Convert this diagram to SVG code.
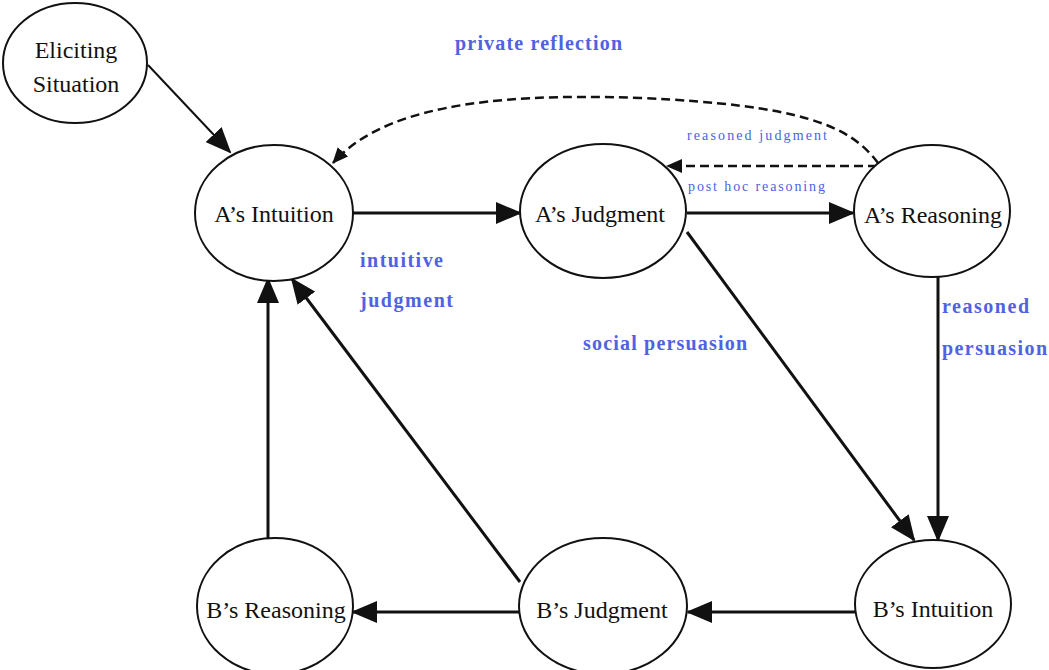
<svg xmlns="http://www.w3.org/2000/svg" width="1049" height="670" viewBox="0 0 1049 670">
<style>
.node ellipse{fill:#fff;stroke:#111;stroke-width:2}
.node text{font-family:"Liberation Serif","Times New Roman",serif;font-size:24px;fill:#111;text-anchor:middle}
.conn{stroke:#111;stroke-width:3;fill:none}
.dash{stroke:#111;stroke-width:2.5;fill:none;stroke-dasharray:9 5}
.lbl{font-family:"Liberation Serif","Times New Roman",serif;font-size:20px;font-weight:bold;fill:#5062e2}
.sm{font-family:"Liberation Serif","Times New Roman",serif;font-size:14px;fill:#4c5fe0}
</style>
<defs>
<marker id="ah" viewBox="0 0 26 22" refX="24" refY="11" markerWidth="26" markerHeight="22" markerUnits="userSpaceOnUse" orient="auto">
<path d="M0,0 L26,11 L0,22 z" fill="#111"/>
</marker>
<marker id="ahs" viewBox="0 0 16 14" refX="15" refY="7" markerWidth="16" markerHeight="14" markerUnits="userSpaceOnUse" orient="auto">
<path d="M0,0 L16,7 L0,14 z" fill="#111"/>
</marker>
</defs>
<rect width="1049" height="670" fill="#fff"/>
<g id="connectors">
<path class="conn" d="M148 65 L230 152" marker-end="url(#ah)" style="stroke-width:2"/>
<path class="conn" d="M353 213 L520 213" marker-end="url(#ah)"/>
<path class="conn" d="M687 213 L853 213" marker-end="url(#ah)"/>
<path class="conn" d="M938 277 L938 540" marker-end="url(#ah)"/>
<path class="conn" d="M687 232 L914 540" marker-end="url(#ah)"/>
<path class="conn" d="M855 612 L688 612" marker-end="url(#ah)"/>
<path class="conn" d="M520 612 L353 612" marker-end="url(#ah)"/>
<path class="conn" d="M268 538 L268 279" marker-end="url(#ah)"/>
<path class="conn" d="M520 582 L292 279" marker-end="url(#ah)"/>
<path class="dash" d="M878 163 C850 125 800 105 640 98 C480 92 380 110 333 163" marker-end="url(#ahs)"/>
<path class="dash" d="M877 166 L667 166" marker-end="url(#ahs)"/>
</g>
<g id="elicit" class="node"><ellipse cx="75" cy="63" rx="72" ry="60"/><text x="76" y="58">Eliciting</text><text x="76" y="92">Situation</text></g>
<g id="a-intuition" class="node"><ellipse cx="274" cy="213" rx="79" ry="68"/><text x="274" y="222">A’s Intuition</text></g>
<g id="a-judgment" class="node"><ellipse cx="603" cy="211" rx="83" ry="67"/><text x="600" y="222">A’s Judgment</text></g>
<g id="a-reasoning" class="node"><ellipse cx="932" cy="211" rx="78" ry="66"/><text x="933" y="223">A’s Reasoning</text></g>
<g id="b-reasoning" class="node"><ellipse cx="275" cy="606" rx="78" ry="68"/><text x="276" y="618">B’s Reasoning</text></g>
<g id="b-judgment" class="node"><ellipse cx="603" cy="606" rx="84" ry="68"/><text x="602" y="618">B’s Judgment</text></g>
<g id="b-intuition" class="node"><ellipse cx="933" cy="604" rx="78" ry="64"/><text x="933" y="617">B’s Intuition</text></g>
<g id="labels">
<text class="lbl" x="455" y="50" textLength="167" lengthAdjust="spacing">private reflection</text>
<text class="sm" x="687" y="140" textLength="140" lengthAdjust="spacing">reasoned judgment</text>
<text class="sm" x="688" y="191" textLength="137" lengthAdjust="spacing">post hoc reasoning</text>
<text class="lbl" x="360" y="267" textLength="83" lengthAdjust="spacing">intuitive</text>
<text class="lbl" x="360" y="307" textLength="93" lengthAdjust="spacing">judgment</text>
<text class="lbl" x="583" y="350" textLength="164" lengthAdjust="spacing">social persuasion</text>
<text class="lbl" x="942" y="313" textLength="87" lengthAdjust="spacing">reasoned</text>
<text class="lbl" x="942" y="355" textLength="105" lengthAdjust="spacing">persuasion</text>
</g>
</svg>
